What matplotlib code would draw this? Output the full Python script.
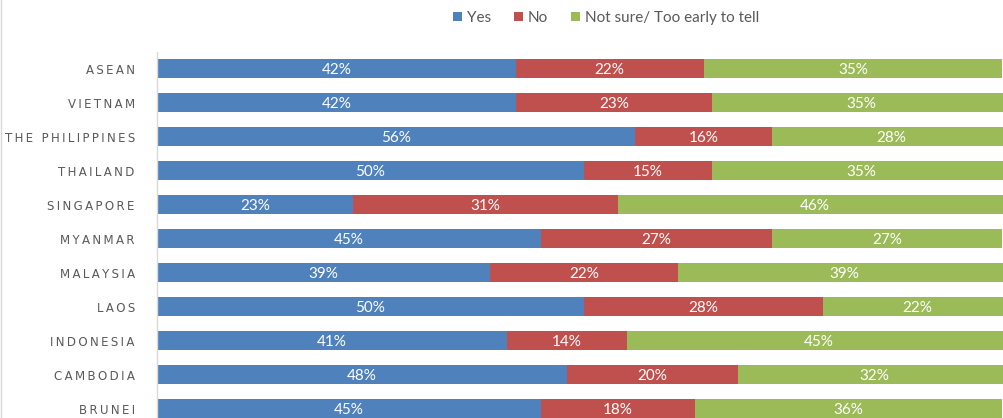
import matplotlib
matplotlib.use("Agg")
import matplotlib.pyplot as plt
from matplotlib.lines import Line2D
from matplotlib.patches import Patch

categories = ["ASEAN", "VIETNAM", "THE PHILIPPINES", "THAILAND", "SINGAPORE",
              "MYANMAR", "MALAYSIA", "LAOS", "INDONESIA", "CAMBODIA", "BRUNEI"]
yes = [42, 42, 56, 50, 23, 45, 39, 50, 41, 48, 45]
no = [22, 23, 16, 15, 31, 27, 22, 28, 14, 20, 18]
not_sure = [35, 35, 28, 35, 46, 27, 39, 22, 45, 32, 36]
series_names = ["Yes", "No", "Not sure/ Too early to tell"]
colors = ["#4F81BD", "#C0504D", "#9BBB59"]

plt.rcParams['font.family'] = ['Lato', 'DejaVu Sans']

W, H = 1004, 418
fig = plt.figure(figsize=(W / 100, H / 100), dpi=100)
ax_left, ax_right = 157, 1011
ax_top, ax_bottom = 51.5, 425.5
ax = fig.add_axes([ax_left / W, (H - ax_bottom) / H,
                   (ax_right - ax_left) / W, (ax_bottom - ax_top) / H])

n = len(categories)
ypos = list(range(n))
left = [0] * n
for vals, col, name in zip([yes, no, not_sure], colors, series_names):
    ax.barh(ypos, vals, left=left, height=0.57, color=col, label=name)
    for y, v, l in zip(ypos, vals, left):
        ax.text(l + v / 2, y + 0.04, f"{v}%", ha='center', va='center',
                color='white', fontsize=11)
    left = [a + b for a, b in zip(left, vals)]

ax.set_xlim(0, 100)
ax.set_ylim(n - 0.5, -0.5)
ax.set_yticks(ypos)
ax.set_yticklabels(["\u2009".join(c) for c in categories],
                   fontsize=8.5, color="#595959", family=['DejaVu Sans'])
ax.tick_params(axis='y', length=0, pad=16)
ax.set_xticks([])
for s in ['top', 'right', 'bottom']:
    ax.spines[s].set_visible(False)
ax.spines['left'].set_color('#D9D9D9')
ax.spines['left'].set_linewidth(1.0)

handles = [Patch(facecolor=c) for c in colors]
leg = fig.legend(handles, series_names, loc='upper center',
                 bbox_to_anchor=(606 / W, 1 + 3 / H), ncol=3, frameon=False,
                 fontsize=11, handlelength=0.6, handleheight=0.6,
                 handletextpad=0.3, columnspacing=1.5)
for t in leg.get_texts():
    t.set_color('#595959')

fig.add_artist(Line2D([1.0 / W, 1.0 / W], [0, 1], transform=fig.transFigure,
                      color='#D9D9D9', linewidth=1.0))

fig.savefig("out.png", dpi=100)
